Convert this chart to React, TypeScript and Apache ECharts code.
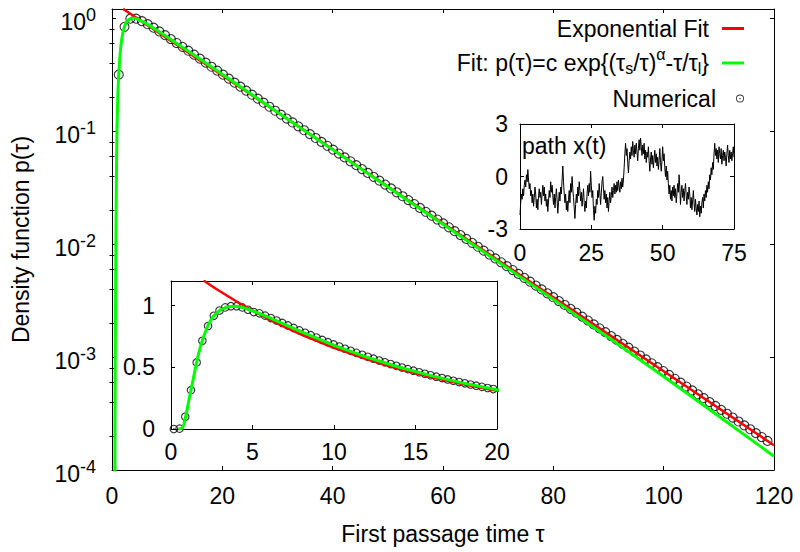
import React, { useEffect, useRef } from 'react';
import * as echarts from 'echarts';

const FONT = '"Liberation Sans", Arial, Helvetica, sans-serif';
const FS = 23;

// Exponential fit (red)
const TAU_EXP = [2, 2.5, 3, 4, 5, 6, 7, 8, 10, 12, 14, 16, 18, 20, 30, 40, 50, 60, 70, 80, 90, 100, 110, 120];
const P_EXP = [1.204, 1.16, 1.117, 1.036, 0.961, 0.891, 0.826, 0.766, 0.659, 0.567, 0.487, 0.419, 0.361, 0.31, 0.146, 0.0687, 0.0323, 0.01523, 0.00717, 0.00337, 0.001588, 0.000747, 0.000352, 0.0001655];

// Fit p(tau)=c exp{...} (green)
const TAU_FIT = [0.45, 0.5, 0.55, 0.6, 0.7, 0.8, 0.9, 1.0, 1.1, 1.2, 1.4, 1.6, 1.8, 2.0, 2.3, 2.6, 3.0, 3.5, 4.0, 4.5, 5, 6, 7, 8, 10, 12, 14, 16, 18, 20, 25, 30, 40, 50, 60, 70, 80, 90, 100, 110, 120];
const P_FIT = [2.2e-6, 3.5e-5, 2.6e-4, 1.2e-3, 0.009, 0.04, 0.1, 0.165, 0.235, 0.3, 0.43, 0.56, 0.665, 0.75, 0.85, 0.915, 0.963, 0.992, 0.996, 0.982, 0.958, 0.905, 0.846, 0.787, 0.678, 0.583, 0.501, 0.431, 0.37, 0.318, 0.2155, 0.1462, 0.06836, 0.03198, 0.01493, 0.006955, 0.003235, 0.001485, 0.000672, 0.000299, 0.0001324];

// Numerical points, main plot (sampling grid)
const NUM_MAIN_T0 = 1.225;
const NUM_MAIN_DT = 1.05;
const P_NUM_MAIN = [0.315, 0.835, 0.986, 0.986, 0.937, 0.88, 0.82, 0.76, 0.704, 0.65, 0.6, 0.555, 0.513, 0.473, 0.436, 0.402, 0.37, 0.3415, 0.315, 0.2903, 0.2675, 0.2467, 0.2272, 0.2093, 0.193, 0.1778, 0.1638, 0.151, 0.1393, 0.1287, 0.1189, 0.1099, 0.1015, 0.09377, 0.08665, 0.08006, 0.07397, 0.06834, 0.06314, 0.05834, 0.0539, 0.0498, 0.04602, 0.04252, 0.03928, 0.0363, 0.03354, 0.03099, 0.02863, 0.02645, 0.02444, 0.02258, 0.02086, 0.01928, 0.01781, 0.01646, 0.0152, 0.01405, 0.01298, 0.01199, 0.01108, 0.01023, 0.009451, 0.008733, 0.008068, 0.007455, 0.006888, 0.006364, 0.00588, 0.005432, 0.005019, 0.004638, 0.004285, 0.003959, 0.003658, 0.00338, 0.003123, 0.002885, 0.002666, 0.002463, 0.002276, 0.002103, 0.001943, 0.001795, 0.001659, 0.001532, 0.001416, 0.001308, 0.001208, 0.001116, 0.001031, 0.0009526, 0.0008802, 0.0008133, 0.0007514, 0.0006943, 0.0006415, 0.0005927, 0.0005477, 0.0005058, 0.0004674, 0.0004318, 0.000399, 0.0003687, 0.0003406, 0.0003147, 0.0002908, 0.0002687, 0.0002482, 0.0002294, 0.0002119, 0.0001958, 0.0001809];

// Numerical points, inset (finer sampling grid)
const NUM_INSET_T0 = 0.175;
const NUM_INSET_DT = 0.35;
const P_NUM_INSET = [0.0, 0.003, 0.1, 0.315, 0.54, 0.715, 0.835, 0.918, 0.961, 0.986, 0.996, 0.996, 0.986, 0.967, 0.948, 0.9377, 0.9191, 0.8997, 0.8798, 0.8598, 0.8396, 0.8196, 0.7997, 0.7799, 0.7605, 0.7413, 0.7224, 0.704, 0.6859, 0.6683, 0.6509, 0.6339, 0.6174, 0.6013, 0.5855, 0.5701, 0.5551, 0.5405, 0.5263, 0.5123, 0.4987, 0.4855, 0.4726, 0.4601, 0.4478, 0.4359, 0.4243, 0.413, 0.402, 0.3913, 0.3808, 0.3706, 0.3607, 0.3511, 0.3417, 0.3326, 0.3237];

// Path x(t)
const PATH_DT = 0.25;
const PATH_X = [
  -2.2, -1.5, -1.0, -1.3, -0.7, -1.1, -0.5, -0.2, -0.6, 0.1, -0.3, 0.4, -0.2, -0.7, -0.4, -1.1,
  -0.8, -1.5, -1.0, -1.7, -1.2, -0.6, -1.0, -1.8, -1.3, -1.9, -1.1, -0.7, -1.2, -0.9, -1.6, -1.0,
  -0.5, -1.1, -0.6, -1.4, -1.0, -1.7, -1.3, -2.0, -1.4, -0.8, -1.2, -0.3, -0.9, -0.5, -1.1, -1.6,
  -1.0, -1.8, -1.2, -0.7, -1.3, -2.1, -1.5, -0.9, -1.4, -0.6, -1.0, -0.2, 0.6, -0.3, -1.0, -1.5,
  -1.0, -1.9, -1.4, -2.0, -1.3, -0.8, -1.5, -0.4, -0.9, 0.0, -0.7, -1.2, -1.8, -2.4, -1.6, -1.0,
  -1.5, -0.6, -1.1, -0.3, -0.8, -1.4, -0.9, -1.7, -1.2, -0.7, -1.5, -2.0, -1.4, -1.8, -1.0, -0.5,
  -1.1, -0.4, -0.9, 0.3, -0.5, -1.2, -0.8, -1.9, -2.5, -1.7, -2.1, -1.3, -1.6, -0.8, -1.2, -0.4,
  -1.0, -1.6, -0.9, -0.3, 0.0, -0.7, -1.3, -0.8, -1.5, -1.0, -1.8, -1.2, -2.0, -1.4, -0.9, -1.5,
  -1.1, -0.6, -1.2, -0.8, -0.4, -1.0, -0.5, -0.9, -0.3, -0.8, -0.2, -0.6, -0.9, -0.3, -0.7, -0.1,
  -0.6, -0.2, 0.5, 1.3, 1.9, 1.2, 1.6, 0.8, 0.2, 0.9, 1.4, 1.0, 1.7, 1.2, 2.0, 1.5,
  1.1, 1.8, 1.3, 1.9, 1.4, 0.9, 1.6, 2.1, 1.5, 2.2, 1.7, 1.2, 1.8, 1.3, 1.9, 1.0,
  1.5, 0.8, 1.4, 1.1, 1.7, 0.9, 0.3, 1.0, 1.4, 0.7, 1.2, 0.5, 1.0, 1.5, 0.8, 1.3,
  0.6, 1.1, 0.4, 0.9, 1.6, 0.8, 0.3, 0.9, 1.7, 0.9, 1.3, 0.5, 0.0, 0.6, -0.2, 0.3,
  -0.4, -1.0, -0.5, -1.3, -0.8, -1.4, -0.6, -1.1, -0.5, -1.2, -0.7, -1.5, -1.0, -0.4, -0.9, 0.1,
  -0.6, -1.6, -0.9, -0.5, -1.2, -0.7, -1.4, -0.8, -0.4, -1.1, -1.6, -0.9, -1.3, -0.6, -1.0, -1.8,
  -1.2, -1.9, -1.4, -0.8, -1.5, -2.0, -1.3, -1.8, -2.2, -1.6, -2.0, -1.4, -2.3, -1.7, -2.1, -1.5,
  -1.2, -1.8, -1.0, -1.4, -0.8, -1.2, -0.5, -0.9, -0.3, -0.7, 0.1, -0.2, 0.5, 0.1, 0.8, 0.4,
  1.3, 1.9, 1.2, 1.6, 1.0, 1.5, 0.8, 1.7, 1.3, 1.0, 1.6, 0.7, 1.2, 1.5, 0.9, 1.4,
  1.1, 0.6, 1.3, 1.8, 1.2, 0.8, 1.5, 1.0, 1.4, 0.9, 1.3, 1.7, 1.1
];

const MAIN_TICKS_X = { min: 0, max: 120, interval: 20 };
const Y_MIN = 1e-4;
const Y_MAX = 1.2;
const MINOR_MANTISSAS = [2, 4, 6, 8];
const MINOR_DECADES = [-4, -3, -2, -1];

const LINE_ICON = 'path://M0,0H22V3H0Z';
const RING_ICON = 'path://M0,5A5,5,0,1,1,10,5A5,5,0,1,1,0,5ZM1.1,5A3.9,3.9,0,1,0,8.9,5A3.9,3.9,0,1,0,1.1,5ZM4.1,5A0.9,0.9,0,1,1,5.9,5A0.9,0.9,0,1,1,4.1,5Z';

const FIT_LABEL = 'Fit: p(τ)=c exp{(τ{sub|s}/τ){sup|α}-τ/τ{sub|l}}';

export default function App() {
  const ref = useRef<HTMLDivElement>(null);
  useEffect(() => {
    const chart = echarts.init(ref.current!, null, { renderer: 'svg' });

    const expData = TAU_EXP.map((t, i) => [t, P_EXP[i]]);
    const fitData = TAU_FIT.map((t, i) => [t, P_FIT[i]]);
    const numMain = P_NUM_MAIN.map((p, i) => [NUM_MAIN_T0 + i * NUM_MAIN_DT, p]);
    const numInset = P_NUM_INSET.map((p, i) => [NUM_INSET_T0 + i * NUM_INSET_DT, p]);
    const pathData = PATH_X.map((v, i) => [i * PATH_DT, v]);
    const minorLog: number[] = [];
    MINOR_DECADES.forEach((d) => MINOR_MANTISSAS.forEach((m) => minorLog.push(Math.log10(m) + d)));
    const yMaxLog = Math.log10(Y_MAX);

    const black = '#000';
    const axisLine = { show: true, onZero: false, lineStyle: { color: black, width: 1 } };
    const tick = (len: number) => ({ show: true, inside: true, length: len, lineStyle: { color: black, width: 1 } });
    const lbl = (margin: number, extra: any = {}) => ({ show: true, fontSize: FS, fontFamily: FONT, color: black, margin, ...extra });
    const noLbl = { show: false };
    const noSplit = { show: false };

    const logLabelFormatter = (v: number) => {
      const l = Math.log10(v);
      const e = Math.round(l);
      if (Math.abs(l - e) > 1e-6) return '';
      return '{b|10}{s|' + e + '}';
    };

    const legendCommon = {
      orient: 'vertical', right: 56, align: 'right', padding: 0, itemGap: 0,
      itemWidth: 22, itemHeight: 8, selectedMode: false,
      textStyle: {
        fontSize: FS, fontFamily: FONT, color: black, padding: [0, 8, 0, 0],
        rich: {
          sub: { fontSize: 16, fontFamily: FONT, color: black, padding: [10, 0, 0, 0] },
          sup: { fontSize: 16, fontFamily: FONT, color: black, padding: [0, 0, 18, 0] },
        },
      },
    };

    const option: any = {
      animation: false,
      backgroundColor: '#fff',
      textStyle: { fontFamily: FONT },
      grid: [
        { left: 112, top: 9, width: 662, height: 461, containLabel: false, outerBoundsMode: 'none' },
        { left: 171, top: 281, width: 326, height: 148, containLabel: false, outerBoundsMode: 'none' },
        { left: 520, top: 124, width: 214, height: 105, containLabel: false, outerBoundsMode: 'none' },
      ],
      xAxis: [
        {
          gridIndex: 0, type: 'value', position: 'bottom', ...MAIN_TICKS_X,
          axisLine, axisTick: tick(4), axisLabel: lbl(14), splitLine: noSplit,
          name: 'First passage time τ', nameLocation: 'middle', nameGap: 52,
          nameTextStyle: { fontSize: FS, fontFamily: FONT, color: black },
        },
        { gridIndex: 0, type: 'value', position: 'top', ...MAIN_TICKS_X, axisLine, axisTick: tick(4), axisLabel: noLbl, splitLine: noSplit },
        { gridIndex: 1, type: 'value', position: 'bottom', min: 0, max: 20, interval: 5, axisLine, axisTick: tick(4), axisLabel: lbl(11), splitLine: noSplit },
        { gridIndex: 1, type: 'value', position: 'top', min: 0, max: 20, interval: 5, axisLine, axisTick: tick(4), axisLabel: noLbl, splitLine: noSplit },
        { gridIndex: 2, type: 'value', position: 'bottom', min: 0, max: 75, interval: 25, axisLine, axisTick: tick(4), axisLabel: lbl(12), splitLine: noSplit },
        { gridIndex: 2, type: 'value', position: 'top', min: 0, max: 75, interval: 25, axisLine, axisTick: tick(4), axisLabel: noLbl, splitLine: noSplit },
      ],
      yAxis: [
        {
          gridIndex: 0, type: 'log', logBase: 10, min: Y_MIN, max: Y_MAX, position: 'left',
          axisLine, axisTick: tick(4), splitLine: noSplit,
          axisLabel: lbl(16, {
            formatter: logLabelFormatter,
            rich: {
              b: { fontSize: FS, fontFamily: FONT, color: black, padding: [8, 0, 0, 0] },
              s: { fontSize: 18, fontFamily: FONT, color: black, padding: [0, 0, 6, 0] },
            },
          }),
          name: 'Density function p(τ)', nameLocation: 'middle', nameRotate: 90, nameGap: 80,
          nameTextStyle: { fontSize: FS, fontFamily: FONT, color: black },
        },
        {
          gridIndex: 0, type: 'value', min: -4, max: yMaxLog, position: 'left',
          axisLine: { show: false }, axisTick: { ...tick(2.5), customValues: minorLog }, axisLabel: noLbl, splitLine: noSplit,
        },
        {
          gridIndex: 0, type: 'log', logBase: 10, min: Y_MIN, max: Y_MAX, position: 'right',
          axisLine, axisTick: tick(4), axisLabel: noLbl, splitLine: noSplit,
        },
        {
          gridIndex: 0, type: 'value', min: -4, max: yMaxLog, position: 'right',
          axisLine: { show: false }, axisTick: { ...tick(2.5), customValues: minorLog }, axisLabel: noLbl, splitLine: noSplit,
        },
        {
          gridIndex: 1, type: 'value', min: 0, max: 1.2, interval: 0.5, position: 'left',
          axisLine, axisTick: tick(4), splitLine: noSplit,
          axisLabel: lbl(16, { formatter: (v: number) => (v > 1.05 ? '' : String(v)) }),
        },
        { gridIndex: 1, type: 'value', min: 0, max: 1.2, interval: 0.5, position: 'right', axisLine, axisTick: tick(4), axisLabel: noLbl, splitLine: noSplit },
        { gridIndex: 2, type: 'value', min: -3, max: 3, interval: 3, position: 'left', axisLine, axisTick: tick(4), axisLabel: lbl(12), splitLine: noSplit },
        { gridIndex: 2, type: 'value', min: -3, max: 3, interval: 3, position: 'right', axisLine, axisTick: tick(4), axisLabel: noLbl, splitLine: noSplit },
      ],
      legend: [
        { ...legendCommon, top: 17, data: [{ name: 'Exponential Fit', icon: LINE_ICON, itemStyle: { color: '#ff0000', borderWidth: 0 } }] },
        { ...legendCommon, top: 46, data: [{ name: 'Fit', icon: LINE_ICON, itemStyle: { color: '#00ff00', borderWidth: 0 } }], formatter: () => FIT_LABEL },
        { ...legendCommon, top: 87, data: [{ name: 'Numerical', icon: RING_ICON, itemStyle: { color: black, borderWidth: 0 } }] },
      ],
      graphic: [
        { type: 'text', left: 522, top: 134, silent: true, style: { text: 'path x(t)', fontSize: FS, fontFamily: FONT, fill: black } },
      ],
      series: [
        { name: 'Exponential Fit', type: 'line', xAxisIndex: 0, yAxisIndex: 0, data: expData, showSymbol: false, silent: true, lineStyle: { color: '#ff0000', width: 2.5 }, itemStyle: { color: '#ff0000' } },
        { name: 'Fit', type: 'line', xAxisIndex: 0, yAxisIndex: 0, data: fitData, showSymbol: false, silent: true, lineStyle: { color: '#00ff00', width: 3 }, itemStyle: { color: '#00ff00' } },
        { name: 'Numerical', type: 'scatter', xAxisIndex: 0, yAxisIndex: 0, data: numMain, symbol: 'circle', symbolSize: 9, silent: true, itemStyle: { color: 'transparent', borderColor: black, borderWidth: 1.1 } },
        { name: 'dotsMain', type: 'scatter', xAxisIndex: 0, yAxisIndex: 0, data: numMain, symbol: 'circle', symbolSize: 1.6, silent: true, itemStyle: { color: black } },

        { name: 'Exponential Fit', type: 'line', xAxisIndex: 2, yAxisIndex: 4, data: expData, showSymbol: false, silent: true, lineStyle: { color: '#ff0000', width: 2.5 }, itemStyle: { color: '#ff0000' } },
        { name: 'Fit', type: 'line', xAxisIndex: 2, yAxisIndex: 4, data: fitData, showSymbol: false, silent: true, lineStyle: { color: '#00ff00', width: 3 }, itemStyle: { color: '#00ff00' } },
        { name: 'Numerical', type: 'scatter', xAxisIndex: 2, yAxisIndex: 4, data: numInset, symbol: 'circle', symbolSize: 7.5, silent: true, itemStyle: { color: 'transparent', borderColor: black, borderWidth: 1.1 } },
        { name: 'dotsInset', type: 'scatter', xAxisIndex: 2, yAxisIndex: 4, data: numInset, symbol: 'circle', symbolSize: 1.6, silent: true, itemStyle: { color: black } },

        { name: 'path', type: 'line', xAxisIndex: 4, yAxisIndex: 6, data: pathData, showSymbol: false, silent: true, lineStyle: { color: black, width: 1 } },
      ],
    };

    chart.setOption(option);
    return () => chart.dispose();
  }, []);

  return <div ref={ref} style={{ position: 'absolute', left: 0, top: 0, width: 800, height: 552, background: '#fff' }} />;
}
